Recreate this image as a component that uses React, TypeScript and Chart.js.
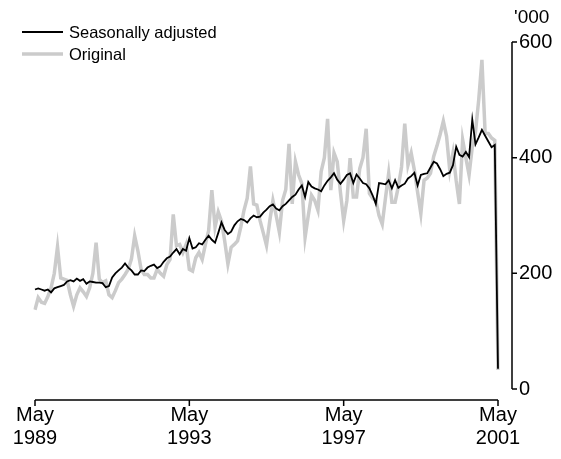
import React, { useEffect, useRef } from 'react';
import { Chart, registerables } from 'chart.js';

Chart.register(...registerables);

const monthNames = ['Jan', 'Feb', 'Mar', 'Apr', 'May', 'Jun', 'Jul', 'Aug', 'Sep', 'Oct', 'Nov', 'Dec'];
// Monthly categories May 1989 .. May 2001
const categories: string[] = [];
for (let y = 1989; y <= 2001; y++) {
  for (let m = 0; m < 12; m++) {
    if ((y === 1989 && m < 4) || (y === 2001 && m > 4)) continue;
    categories.push(monthNames[m] + ' ' + y);
  }
}

const xTickLabels: Record<string, string[]> = {
  'May 1989': ['May', '1989'],
  'May 1993': ['May', '1993'],
  'May 1997': ['May', '1997'],
  'May 2001': ['May', '2001'],
};
const yTicks = [0, 200, 400, 600];
const unitLabel = "'000";

const seasonallyAdjusted = [
  172, 174, 172, 170, 172, 167, 174, 176, 178, 180, 186, 188,
  186, 191, 187, 190, 182, 186, 185, 184, 184, 183, 176, 178,
  193, 200, 205, 210, 217, 210, 205, 198, 198, 205, 204, 210,
  213, 215, 209, 212, 220, 226, 229, 236, 242, 233, 242, 239,
  261, 243, 245, 252, 250, 258, 265, 258, 253, 270, 288, 275,
  268, 272, 283, 290, 294, 292, 288, 295, 300, 297, 298, 305,
  310, 316, 319, 312, 309, 316, 320, 326, 332, 336, 345, 352,
  332, 358, 350, 347, 345, 342, 352, 360, 366, 373, 362, 355,
  362, 370, 373, 356, 371, 364, 356, 354, 347, 335, 320, 356,
  355, 354, 361, 347, 361, 348, 352, 355, 364, 368, 374, 352,
  370, 372, 373, 383, 393, 390, 380, 368, 372, 374, 387, 419,
  405, 402, 410, 401, 466, 423, 435, 448, 438, 428, 418, 422,
  35,
];

const original = [
  137, 158, 150, 148, 160, 175, 200, 246, 192, 190, 188, 163,
  143, 163, 175, 168, 160, 175, 200, 253, 190, 184, 187, 163,
  158, 170, 184, 190, 198, 207, 225, 265, 239, 207, 198, 198,
  192, 192, 207, 200, 195, 215, 224, 302, 248, 250, 236, 250,
  207, 204, 227, 236, 224, 250, 274, 344, 280, 306, 290, 256,
  216, 245, 250, 256, 280, 309, 330, 385, 320, 318, 291, 270,
  248, 290, 326, 300, 271, 326, 345, 424, 320, 393, 370, 355,
  262, 300, 335, 326, 309, 376, 400, 467, 344, 408, 393, 340,
  291, 326, 399, 332, 332, 381, 400, 450, 338, 330, 326, 300,
  285, 330, 373, 323, 323, 350, 384, 459, 387, 408, 378, 340,
  303, 361, 365, 373, 402, 420, 440, 463, 437, 378, 408, 360,
  320, 431, 400, 370, 419, 445, 500, 569, 442, 442, 434, 430,
  33,
];

const FONT = "'Liberation Sans', Arial, sans-serif";

const decorPlugin = {
  id: 'decor',
  afterDraw(chart: any) {
    const { ctx, chartArea, scales } = chart;
    const xs = scales.x;
    const ys = scales.y;
    ctx.save();
    ctx.strokeStyle = '#000';
    ctx.lineWidth = 1.5;
    ctx.lineCap = 'butt';
    // y axis (right)
    const yAxisX = chartArea.right + 14;
    const yTop = ys.getPixelForValue(600);
    const yBot = ys.getPixelForValue(0);
    ctx.beginPath();
    ctx.moveTo(yAxisX, yTop);
    ctx.lineTo(yAxisX, yBot);
    yTicks.forEach((v) => {
      const py = ys.getPixelForValue(v);
      ctx.moveTo(yAxisX, py);
      ctx.lineTo(yAxisX + 5, py);
    });
    ctx.stroke();
    // x axis (bottom)
    const xAxisY = chartArea.bottom + 11;
    const xl = xs.getPixelForValue(0);
    const xr = xs.getPixelForValue(categories.length - 1);
    ctx.beginPath();
    ctx.moveTo(xl, xAxisY);
    ctx.lineTo(xr, xAxisY);
    categories.forEach((c, i) => {
      if (xTickLabels[c]) {
        const px = xs.getPixelForValue(i);
        ctx.moveTo(px, xAxisY);
        ctx.lineTo(px, xAxisY + 6);
      }
    });
    ctx.stroke();
    // unit label
    ctx.fillStyle = '#000';
    ctx.font = `19px ${FONT}`;
    ctx.textAlign = 'left';
    ctx.textBaseline = 'middle';
    ctx.fillText(unitLabel, yAxisX + 2, 18);
    // legend
    const items = [
      { label: 'Seasonally adjusted', color: '#000000', width: 1.8, y: 32 },
      { label: 'Original', color: '#cbcbcb', width: 3.5, y: 54 },
    ];
    ctx.font = `16.5px ${FONT}`;
    items.forEach((it) => {
      ctx.strokeStyle = it.color;
      ctx.lineWidth = it.width;
      ctx.beginPath();
      ctx.moveTo(22, it.y);
      ctx.lineTo(63, it.y);
      ctx.stroke();
      ctx.fillStyle = '#000';
      ctx.fillText(it.label, 69, it.y + 1);
    });
    ctx.restore();
  },
};

export default function App() {
  const ref = useRef<HTMLCanvasElement | null>(null);
  useEffect(() => {
    if (!ref.current) return;
    const chart = new Chart(ref.current, {
      type: 'line',
      data: {
        labels: categories,
        datasets: [
          {
            label: 'Seasonally adjusted',
            data: seasonallyAdjusted,
            borderColor: '#000000',
            borderWidth: 1.8,
            pointRadius: 0,
            tension: 0,
            order: 1,
          },
          {
            label: 'Original',
            data: original,
            borderColor: '#cbcbcb',
            borderWidth: 3.5,
            pointRadius: 0,
            tension: 0,
            order: 2,
          },
        ],
      },
      options: {
        animation: false,
        responsive: false,
        devicePixelRatio: 1,
        layout: { padding: { left: 35, top: 42, right: 0, bottom: 0 } },
        plugins: { legend: { display: false }, tooltip: { enabled: false }, title: { display: false } },
        scales: {
          x: {
            type: 'category',
            offset: false,
            grid: { display: false, drawTicks: false },
            border: { display: false },
            afterFit: (s: any) => { s.height = 70; s.paddingLeft = 0; s.paddingRight = 0; },
            ticks: {
              autoSkip: false,
              maxRotation: 0,
              minRotation: 0,
              padding: 15,
              color: '#000',
              font: { family: FONT, size: 20, lineHeight: 1.15 },
              callback: (_v: any, i: number) => xTickLabels[categories[i]] || '',
            },
          },
          y: {
            position: 'right',
            min: 0,
            max: 600,
            grid: { display: false, drawTicks: false },
            border: { display: false },
            afterFit: (s: any) => { s.width = 63; },
            afterBuildTicks: (s: any) => { s.ticks = yTicks.map((v) => ({ value: v })); },
            ticks: {
              padding: 21,
              color: '#000',
              font: { family: FONT, size: 20 },
            },
          },
        },
      },
      plugins: [decorPlugin],
    });
    return () => chart.destroy();
  }, []);
  return (
    <div style={{ position: 'absolute', left: 0, top: 0, width: 561, height: 459 }}>
      <canvas ref={ref} width={561} height={459} style={{ width: 561, height: 459 }} />
    </div>
  );
}
